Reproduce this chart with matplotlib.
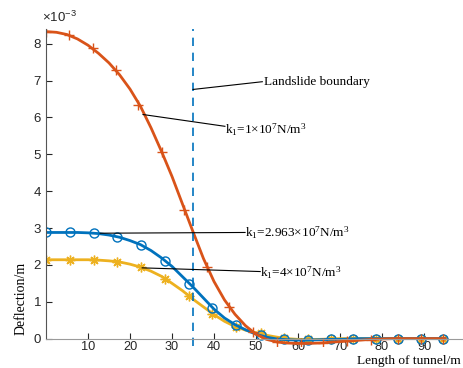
import matplotlib
matplotlib.use("Agg")
import matplotlib.pyplot as plt

plt.rcParams["mathtext.fontset"] = "custom"
plt.rcParams["mathtext.rm"] = "Liberation Serif"
plt.rcParams["mathtext.it"] = "Liberation Serif:italic"
plt.rcParams["mathtext.sf"] = "Liberation Sans"

# marker positions along the tunnel (m)
x_mk_o = [0, 5.5, 11.1, 16.6, 22.0, 27.6, 32.9, 38.4, 43.6, 49.3,
          55.0, 60.6, 65.9, 71.6, 77.3, 83.9, 89.3, 94.5]
x_mk_by = [0, 5.7, 11.4, 17.0, 22.7, 28.4, 34.1, 39.6, 45.3, 51.1,
           56.6, 62.4, 67.8, 73.2, 78.5, 83.9, 89.3, 94.5]

# deflection at the markers, units of 1e-3 m
mk_1e7 = [8.33, 8.24, 7.89, 7.30, 6.35, 5.06, 3.49, 1.95, 0.86, 0.17,
          -0.09, -0.13, -0.12, -0.07, -0.03, 0.0, 0.0, 0.0]
mk_2963e7 = [2.88, 2.88, 2.86, 2.77, 2.55, 2.11, 1.48, 0.83, 0.36, 0.09,
             -0.02, -0.04, -0.02, -0.01, 0.0, 0.0, 0.0, 0.0]
mk_4e7 = [2.14, 2.14, 2.14, 2.09, 1.94, 1.62, 1.15, 0.68, 0.32, 0.14,
          0.03, -0.02, -0.01, 0.0, 0.0, 0.0, 0.0, 0.0]

# curves read every 2.5 m
x_line = [0, 2.5, 5, 7.5, 10, 12.5, 15, 17.5, 20, 22.5, 25, 27.5, 30, 32.5,
          35, 37.5, 40, 42.5, 45, 47.5, 50, 52.5, 55, 57.5, 60, 62.5, 65,
          67.5, 70, 72.5, 75, 77.5, 80, 82.5, 85, 87.5, 90, 92.5, 95]
line_1e7 = [8.33, 8.31, 8.25, 8.13, 7.96, 7.74, 7.48, 7.16, 6.77, 6.30,
            5.72, 5.08, 4.40, 3.65, 2.90, 2.17, 1.55, 1.05, 0.66, 0.35,
            0.12, -0.02, -0.09, -0.12, -0.13, -0.13, -0.12, -0.10, -0.08,
            -0.06, -0.04, -0.02, -0.01, 0.0, 0.0, 0.0, 0.0, 0.0, 0.0]
line_2963e7 = [2.88, 2.88, 2.88, 2.88, 2.87, 2.85, 2.81, 2.75, 2.66, 2.55,
               2.39, 2.19, 1.96, 1.68, 1.40, 1.10, 0.80, 0.56, 0.38, 0.24,
               0.12, 0.04, -0.01, -0.03, -0.04, -0.04, -0.03, -0.02, -0.02,
               -0.01, 0.0, 0.0, 0.0, 0.0, 0.0, 0.0, 0.0, 0.0, 0.0]
line_4e7 = [2.14, 2.14, 2.14, 2.14, 2.14, 2.13, 2.11, 2.08, 2.02, 1.94,
            1.83, 1.69, 1.50, 1.30, 1.07, 0.86, 0.65, 0.47, 0.33, 0.23,
            0.16, 0.09, 0.04, 0.0, -0.02, -0.02, -0.02, -0.01, 0.0,
            0.0, 0.0, 0.0, 0.0, 0.0, 0.0, 0.0, 0.0, 0.0, 0.0]

boundary = 35

serif = "Liberation Serif"
sans = "Liberation Sans"

blue = "#0072BD"
orange = "#D95319"
yellow = "#EDB120"

fig = plt.figure(figsize=(4.64, 3.68), dpi=100)
ax = fig.add_axes([46/464, 22/368, 420/464, 317/368])

ax.plot(x_line, line_4e7, color=yellow, lw=2)
ax.plot(x_mk_by, mk_4e7, ls="none", color=yellow, marker=(8, 2, 0), ms=7, mew=1)
ax.plot(x_line, line_2963e7, color=blue, lw=2)
ax.plot(x_mk_by, mk_2963e7, ls="none", color=blue, marker="o", ms=6.5,
        mfc="none", mew=1)
ax.plot(x_line, line_1e7, color=orange, lw=2)
ax.plot(x_mk_o, mk_1e7, ls="none", color=orange, marker="+", ms=7, mew=1)

ax.axvline(boundary, color=blue, ls=(0, (5, 4)), lw=1.2)

ax.set_xlim(0, 100)
ax.set_ylim(-0.2, 8.4)
ax.spines["bottom"].set_position(("data", 0))
ax.spines["left"].set_bounds(0, 8.4)
for s in ["top", "right"]:
    ax.spines[s].set_visible(False)
ax.spines["bottom"].set_color("#9a9a9a")
ax.spines["left"].set_color("#555555")
ax.set_xticks(range(10, 100, 10))
ax.set_yticks(range(0, 9))
ax.tick_params(direction="in", length=4, colors="#262626", labelsize=9.5)
ax.tick_params(axis="x", pad=2, labelsize=9.2)
for lab in ax.get_xticklabels() + ax.get_yticklabels():
    lab.set_fontfamily(sans)

fig.text(42/464, 1 - 17/368, r"$\mathsf{\times10^{-3}}$", fontsize=9.5,
         color="#262626", va="center", ha="left")

ax.set_ylabel("Deflection/m", family=serif, fontsize=10)
ax.yaxis.set_label_coords(-0.045, 0.15)
fig.text(357/464, 1/368, "Length of tunnel/m", family=serif,
         fontsize=9.6, va="bottom", ha="left")

ann = dict(family=serif, fontsize=9.5, va="center", ha="left")
ax.plot([boundary, 51.5], [6.76, 6.97], color="k", lw=0.8)
ax.text(52, 6.97, "Landslide boundary", **ann)
ax.plot([23.1, 42.6], [6.08, 5.76], color="k", lw=0.8)
ax.text(42.6, 5.66, r"k$_1$=1×10$^7$N/m$^3$", **ann)
ax.plot([12.9, 47.4], [2.86, 2.88], color="k", lw=0.8)
ax.text(47.4, 2.86, r"k$_1$=2.963×10$^7$N/m$^3$", **ann)
ax.plot([22.9, 51.0], [1.92, 1.82], color="k", lw=0.8)
ax.text(51.0, 1.78, r"k$_1$=4×10$^7$N/m$^3$", **ann)

fig.savefig("out.png", dpi=100)
